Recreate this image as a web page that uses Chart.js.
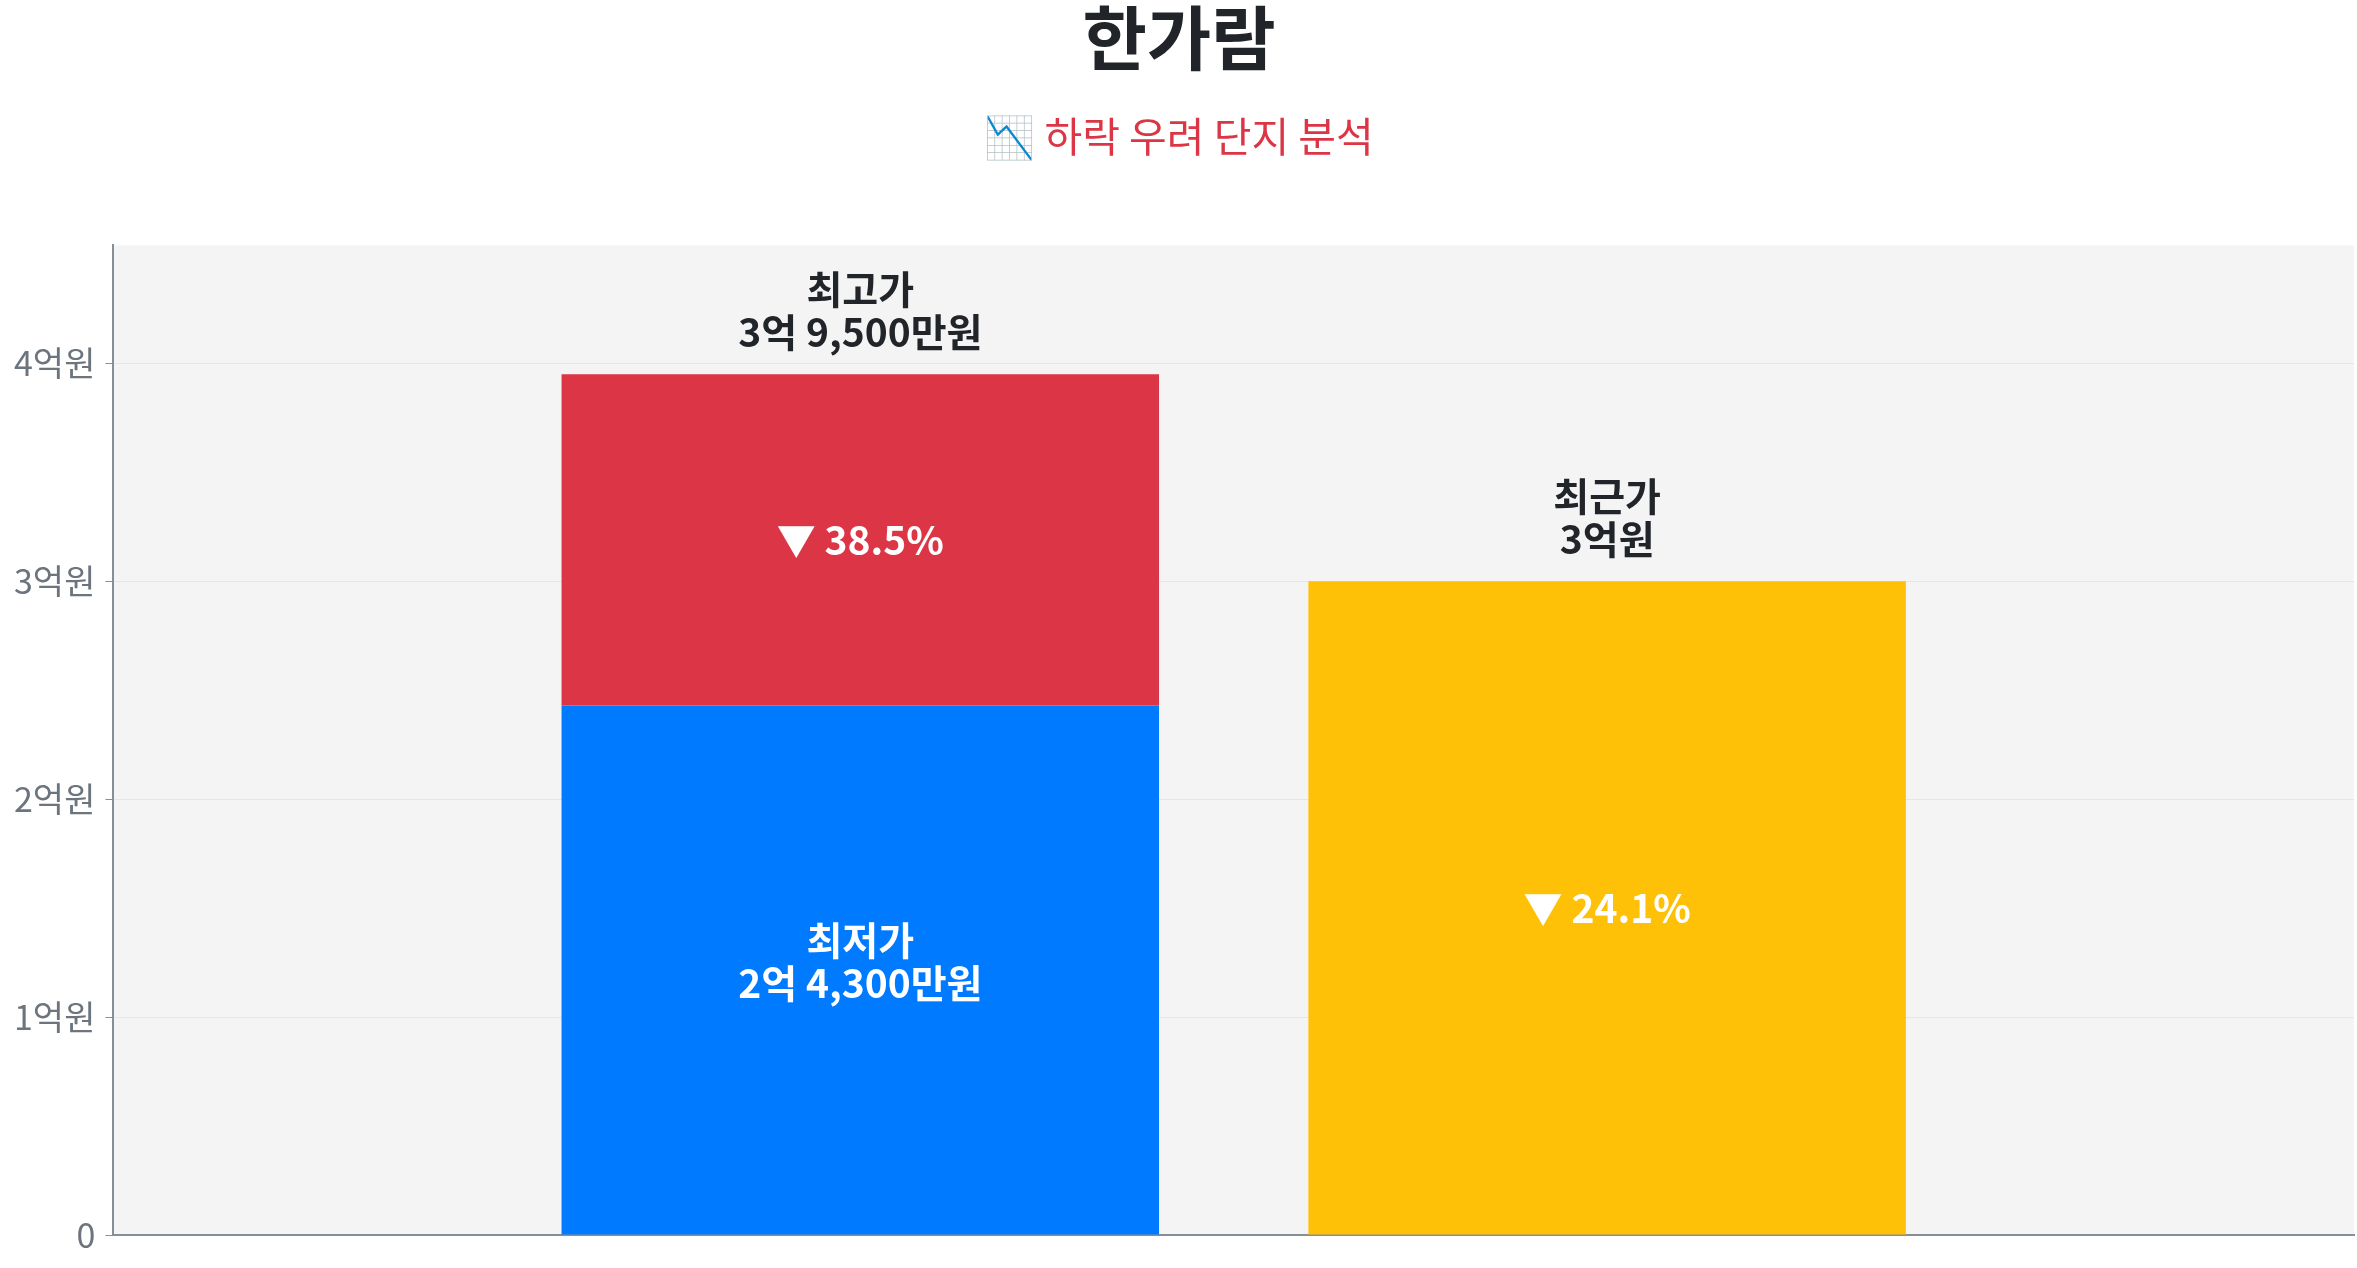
<!DOCTYPE html>
<html lang="ko">
<head>
<meta charset="utf-8">
<title>한가람</title>
<script src="https://cdn.jsdelivr.net/npm/chart.js@4.4.1/dist/chart.umd.min.js"></script>
<style>
    html, body { margin: 0; padding: 0; background: #fff; overflow: hidden; }
    #wrap { width: 100vw; height: 100vh; position: relative; }
</style>
</head>
<body>
<div id="wrap"><canvas id="priceChart"></canvas></div>
<script>
// 단지 정보
var complexName = '한가람';
var subTitle = '📉 하락 우려 단지 분석';

// x 카테고리 (양 끝은 빈 칸)
var categories = ['', '최고/최저가', '최근가', ''];

// 가격 (원)
var lowPrice = [null, 243000000, null, null];
var highPrice = [null, 395000000, null, null];
var recentPrice = [null, null, 300000000, null];

// y축 눈금 (원)
var yTicks = [0, 100000000, 200000000, 300000000, 400000000];
var yTickLabels = ['0', '1억원', '2억원', '3억원', '4억원'];

function FormatPrice(v) {
    var eok = Math.floor(v / 100000000);
    var man = Math.round((v % 100000000) / 10000);
    var txt = '';
    if (eok > 0) txt += eok + '억';
    if (man > 0) txt += (txt ? ' ' : '') + man.toLocaleString('ko-KR') + '만';
    return txt + '원';
}

function DropRate(from, to) {
    return '▼ ' + ((from - to) / from * 100).toFixed(1) + '%';
}

var plotBackground = {
    id: 'plotBackground',
    beforeDraw: function (chart) {
        var ctx = chart.ctx, a = chart.chartArea;
        ctx.save();
        ctx.fillStyle = '#f4f4f4';
        ctx.fillRect(a.left, a.top, a.right - a.left, a.bottom - a.top);
        ctx.restore();
    }
};

var barLabels = {
    id: 'barLabels',
    afterDatasetsDraw: function (chart) {
        var ctx = chart.ctx;
        var lineGap = 43;
        ctx.save();
        ctx.font = 'bold 39px "Noto Sans CJK KR", sans-serif';
        ctx.textAlign = 'center';
        ctx.textBaseline = 'middle';

        function lines(arr, x, yCenter, color) {
            ctx.fillStyle = color;
            var start = yCenter - (arr.length - 1) * lineGap / 2;
            for (var k = 0; k < arr.length; k++) {
                ctx.fillText(arr[k], x, start + k * lineGap);
            }
        }

        for (var i = 0; i < categories.length; i++) {
            if (lowPrice[i] != null && highPrice[i] != null) {
                var lowBar = chart.getDatasetMeta(0).data[i];
                var highBar = chart.getDatasetMeta(1).data[i];
                lines(['최저가', FormatPrice(lowPrice[i])], lowBar.x, (lowBar.y + lowBar.base) / 2 - 8, '#ffffff');
                lines([DropRate(highPrice[i], lowPrice[i])], highBar.x, (highBar.y + highBar.base) / 2, '#ffffff');
                lines(['최고가', FormatPrice(highPrice[i])], highBar.x, highBar.y - 64, '#212529');
            }
            if (recentPrice[i] != null) {
                var recBar = chart.getDatasetMeta(2).data[i];
                var refHigh = highPrice.filter(function (v) { return v != null; })[0];
                lines([DropRate(refHigh, recentPrice[i])], recBar.x, (recBar.y + recBar.base) / 2, '#ffffff');
                lines(['최근가', FormatPrice(recentPrice[i])], recBar.x, recBar.y - 64, '#212529');
            }
        }
        ctx.restore();
    }
};

function Charts() {
    Chart.defaults.font.family = '"Noto Sans CJK KR", "Noto Sans", sans-serif';

    var highRange = highPrice.map(function (v, i) {
        return v == null ? null : [lowPrice[i], v];
    });
    var maxPrice = Math.max.apply(null, highPrice.concat(recentPrice).filter(function (v) { return v != null; }));

    var ctx = document.getElementById('priceChart').getContext('2d');
    new Chart(ctx, {
        type: 'bar',
        data: {
            labels: categories,
            datasets: [
                { label: '최저가', data: lowPrice, backgroundColor: '#007bff' },
                { label: '최고가', data: highRange, backgroundColor: '#dc3545' },
                { label: '최근가', data: recentPrice, backgroundColor: '#ffc107' }
            ]
        },
        options: {
            responsive: true,
            maintainAspectRatio: false,
            animation: false,
            categoryPercentage: 1.0,
            barPercentage: 0.8,
            layout: { padding: { top: 0, left: 4, right: 3, bottom: 33 } },
            plugins: {
                legend: { display: false },
                tooltip: { enabled: false },
                title: {
                    display: true,
                    text: complexName,
                    color: '#212529',
                    font: { size: 70, weight: 'bold', lineHeight: 1.1 },
                    padding: { top: 0, bottom: 0 }
                },
                subtitle: {
                    display: true,
                    text: subTitle,
                    color: '#dc3545',
                    font: { size: 41, weight: 'normal' },
                    padding: { top: 35, bottom: 84 }
                }
            },
            scales: {
                x: {
                    stacked: true,
                    offset: false,
                    grid: { display: false, drawTicks: false },
                    ticks: { display: false },
                    border: { color: '#868e96', width: 2 }
                },
                y: {
                    min: 0,
                    max: maxPrice * 1.15,
                    grid: { color: '#e6e6e6', tickLength: 8, tickColor: '#868e96' },
                    border: { color: '#868e96', width: 2 },
                    afterBuildTicks: function (scale) {
                        scale.ticks = yTicks.map(function (v) { return { value: v }; });
                    },
                    ticks: {
                        padding: 10,
                        color: '#6c757d',
                        font: { size: 34 },
                        callback: function (value) {
                            var idx = yTicks.indexOf(value);
                            return idx >= 0 ? yTickLabels[idx] : '';
                        }
                    }
                }
            }
        },
        plugins: [plotBackground, barLabels]
    });
}

Charts();
</script>
</body>
</html>
